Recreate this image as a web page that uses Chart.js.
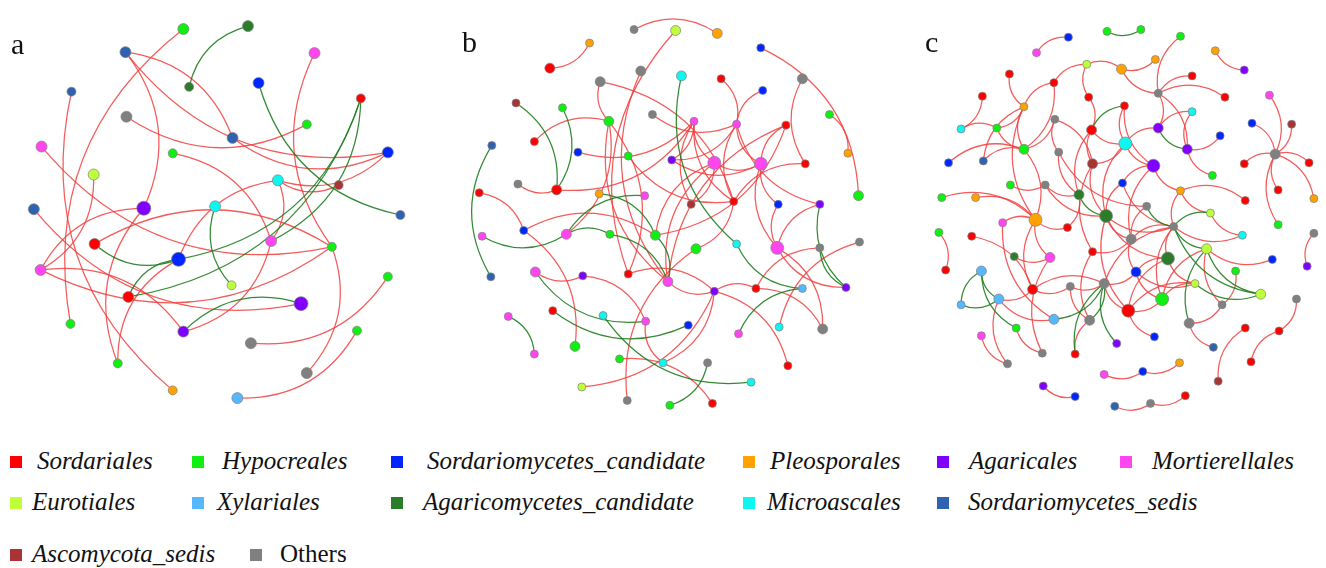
<!DOCTYPE html>
<html>
<head>
<meta charset="utf-8">
<title>Co-occurrence networks of fungal orders</title>
<script src="https://cdn.jsdelivr.net/npm/chart.js@4.4.1/dist/chart.umd.min.js"></script>
<style>
  html, body { margin: 0; padding: 0; background: #ffffff; }
  #page { position: relative; width: 1326px; height: 568px; overflow: hidden; background: #fff; }
  .panel { position: absolute; top: 0; height: 430px; }
  .tag { position: absolute; font-family: "Liberation Serif", "Times New Roman", serif; font-size: 30px; color: #111; line-height: 30px; }
  .sq { position: absolute; width: 12px; height: 12px; }
  .lab { position: absolute; font-family: "Liberation Serif", "Times New Roman", serif; font-style: italic; font-size: 25px; line-height: 26px; color: #111; white-space: nowrap; }
  .lab.roman { font-style: normal; }
</style>
</head>
<body>
<div id="page">
  <canvas id="netA" class="panel" style="left:0px" width="440" height="430"></canvas>
  <canvas id="netB" class="panel" style="left:440px" width="450" height="430"></canvas>
  <canvas id="netC" class="panel" style="left:890px" width="436" height="430"></canvas>
  <div class="tag" style="left:11px;top:29px">a</div>
  <div class="tag" style="left:462px;top:27px">b</div>
  <div class="tag" style="left:925px;top:27px">c</div>
  <div id="legend"></div>
</div>
<script>
// Fungal orders shown in the legend, with their node colours.
const ORDER_NAMES = ['Sordariales', 'Hypocreales', 'Sordariomycetes_candidate', 'Pleosporales',
  'Agaricales', 'Mortierellales', 'Eurotiales', 'Xylariales', 'Agaricomycetes_candidate',
  'Microascales', 'Sordariomycetes_sedis', 'Ascomycota_sedis', 'Others'];
const ORDER_CODES = ['S', 'H', 'SC', 'P', 'A', 'M', 'E', 'X', 'AC', 'MI', 'SS', 'AS', 'O'];
const ORDER_COLORS = ['#ff0000', '#11ee11', '#0026ff', '#ffa200', '#8000ff', '#ff45f0', '#bdff3a',
  '#55b8ff', '#2b7d2b', '#0ff5f0', '#2f62b0', '#a83434', '#808080'];

// Network a: nodes as [x, y, order code, degree class]; edges are 1-based node ids.
const nodesA = [
  [182,22,'H',2],[249,19,'AC',2],[122,46,'SS',2],[318,47,'M',2],[66,87,'SS',1],
  [188,82,'AC',1],[260,78,'SC',2],[366,94,'S',1],[123,113,'O',2],[310,121,'H',1],
  [233,135,'SS',2],[394,150,'SC',2],[35,144,'M',2],[171,151,'H',1],[89,173,'E',2],
  [280,179,'MI',2],[343,184,'AS',1],[27,209,'SS',2],[141,208,'A',3],[215,206,'MI',2],
  [407,215,'SS',1],[90,245,'S',2],[273,242,'M',2],[336,248,'H',1],[177,261,'SC',3],
  [34,272,'M',2],[232,288,'E',1],[394,279,'H',1],[125,300,'S',2],[304,307,'A',3],
  [182,336,'A',2],[65,328,'H',1],[252,348,'O',2],[362,335,'H',1],[114,369,'H',1],
  [310,379,'O',2],[171,397,'P',1],[238,405,'X',2]
];
const posEdgesA = [
  [1,32],[26,15],[5,37],[11,3],[3,12],[19,3],[4,24],[36,24],[9,10],[11,12],[16,12],[16,17],
  [23,14],[23,16],[16,25],[31,23],[19,35],[24,22],[26,24],[18,30],[13,24],[19,26],[31,26],
  [25,35],[33,28],[38,34]
];
const negEdgesA = [[2,6],[7,21],[20,27],[30,31],[25,8],[29,8],[23,8],[22,25],[25,29]];

// Network b
const nodesB = [
  [633,23,'O',1],[676,24,'E',2],[719,27,'P',2],[587,37,'P',1],[546,63,'S',2],
  [764,42,'SC',1],[640,66,'O',2],[682,71,'MI',2],[598,77,'O',2],[723,74,'S',1],
  [766,86,'SC',1],[807,74,'O',2],[511,99,'AS',1],[559,104,'H',1],[652,111,'O',1],
  [607,118,'H',2],[695,118,'M',1],[739,121,'M',1],[790,122,'S',1],[835,111,'H',1],
  [486,143,'SS',1],[530,139,'S',1],[575,150,'SC',1],[627,154,'H',1],[672,158,'A',1],
  [716,161,'M',3],[764,162,'M',3],[810,162,'S',1],[854,151,'P',1],[513,183,'O',1],
  [553,189,'S',2],[473,192,'S',1],[597,193,'P',1],[644,195,'M',1],[692,204,'AS',1],
  [736,201,'S',1],[782,204,'SC',1],[825,204,'A',1],[865,195,'H',2],[476,237,'M',1],
  [519,231,'SC',1],[563,235,'M',2],[608,235,'H',1],[655,236,'H',2],[739,245,'MI',1],
  [781,249,'M',3],[825,249,'O',1],[866,243,'O',1],[697,250,'H',2],[485,279,'SS',1],
  [531,274,'M',2],[580,278,'A',1],[627,276,'S',1],[668,284,'M',2],[716,294,'A',1],
  [759,291,'S',1],[807,291,'X',1],[852,290,'A',1],[549,314,'S',1],[601,319,'MI',1],
  [645,325,'M',1],[689,329,'SC',1],[503,320,'M',1],[741,338,'M',1],[783,331,'MI',1],
  [828,333,'O',2],[530,359,'M',1],[572,351,'H',2],[618,364,'H',1],[663,368,'MI',1],
  [709,368,'O',1],[792,371,'S',1],[754,388,'MI',1],[579,393,'E',1],[626,407,'O',1],
  [670,412,'H',1],[714,410,'S',1]
];
const posEdgesB = [
  [5,4],[3,1],[2,53],[7,54],[9,16],[36,9],[18,10],[11,18],[12,28],[39,6],[29,20],[16,22],
  [23,17],[30,31],[31,17],[42,16],[53,16],[41,32],[38,46],[44,41],[68,41],[44,19],[51,52],
  [61,52],[55,53],[49,75],[74,55],[56,55],[72,55],[46,58],[66,46],[37,46],[47,56],[48,65],
  [66,56],[61,70],[77,69],[70,55],[54,55],[17,26],[17,36],[18,27],[18,38],[25,17],[25,27],
  [25,18],[26,27],[27,37],[26,54],[27,46],[16,54],[18,36],[17,35],[19,54],[24,36],[26,44],
  [19,27],[15,18],[49,36],[28,36],[35,26]
];
const negEdgesB = [
  [8,45],[31,13],[31,14],[21,50],[44,33],[34,42],[38,58],[40,42],[43,42],[54,43],[54,44],
  [51,61],[45,57],[57,64],[47,58],[59,62],[60,73],[76,71],[67,63]
];

// Network c
const nodesC = [
  [1107,25,'H',1],[1142,23,'H',1],[1067,31,'SC',1],[1034,47,'M',1],[1183,30,'H',1],
  [1219,45,'P',1],[1249,65,'A',1],[1086,59,'E',1],[1122,64,'P',2],[1157,54,'P',1],
  [1006,69,'S',1],[1052,78,'S',1],[1195,71,'S',1],[978,92,'S',1],[1088,93,'S',1],
  [1160,89,'O',1],[1229,93,'S',1],[1275,91,'M',1],[1021,103,'P',1],[1125,102,'S',1],
  [1053,116,'O',1],[1195,108,'MI',1],[956,126,'MI',1],[993,125,'H',1],[1091,127,'S',2],
  [1160,125,'A',2],[1257,120,'SC',1],[1298,121,'AS',1],[1224,133,'SC',1],[1126,141,'MI',3],
  [1190,147,'A',2],[1021,147,'H',2],[1057,150,'O',1],[1281,152,'O',2],[943,161,'SC',1],
  [979,159,'SS',1],[1092,162,'AS',2],[1155,164,'A',3],[1216,174,'H',1],[1249,162,'S',1],
  [1316,161,'S',1],[1007,184,'H',1],[1043,184,'O',1],[1123,182,'SC',1],[1078,194,'AC',2],
  [1183,190,'P',1],[1284,189,'S',1],[936,197,'H',1],[971,197,'P',1],[1250,200,'S',1],
  [1321,198,'P',1],[1148,206,'O',1],[1214,213,'E',1],[1106,216,'AC',3],[1033,220,'P',3],
  [999,223,'M',1],[1066,228,'S',1],[1176,227,'O',1],[1247,236,'MI',1],[933,233,'H',1],
  [967,237,'S',1],[1284,225,'H',1],[1321,234,'O',1],[1132,240,'O',2],[1210,250,'E',2],
  [1011,258,'AC',1],[1048,259,'M',2],[1092,253,'S',1],[1170,260,'AC',3],[1278,261,'SC',1],
  [1314,268,'A',1],[940,272,'S',1],[977,273,'X',2],[1137,274,'SC',2],[1240,273,'H',1],
  [1030,292,'S',2],[1069,289,'O',1],[1104,286,'O',2],[1198,286,'E',1],[956,308,'X',1],
  [995,302,'X',2],[1164,302,'H',3],[1266,297,'E',2],[1303,302,'O',1],[1129,314,'S',3],
  [1226,308,'O',1],[1052,323,'X',2],[1089,324,'O',2],[1192,327,'O',2],[1013,332,'H',1],
  [1250,332,'S',1],[1285,335,'S',1],[977,340,'M',1],[1117,348,'A',1],[1156,341,'SC',1],
  [1217,352,'SS',1],[1040,358,'O',1],[1074,359,'S',1],[1256,367,'S',1],[1004,369,'O',1],
  [1182,368,'P',1],[1104,380,'M',1],[1144,377,'SC',1],[1222,387,'AS',1],[1041,392,'A',1],
  [1074,403,'SC',1],[1188,402,'S',1],[1115,413,'SS',1],[1152,410,'O',1]
];
const posEdgesC = [
  [3,4],[6,7],[9,8],[9,10],[8,12],[8,15],[12,19],[11,19],[32,12],[9,16],[5,16],[13,16],
  [17,16],[26,16],[31,16],[24,23],[24,19],[23,14],[19,32],[19,36],[19,55],[25,15],[20,38],
  [37,21],[32,21],[25,30],[22,26],[26,30],[22,31],[31,29],[31,39],[34,27],[34,28],[34,18],
  [34,40],[41,34],[34,47],[34,62],[51,34],[50,46],[32,35],[32,36],[63,71],[55,48],[55,49],
  [72,60],[76,61],[55,56],[56,87],[42,43],[43,45],[43,54],[38,44],[44,58],[46,58],[46,53],
  [58,59],[58,69],[54,58],[58,64],[58,82],[58,78],[65,70],[65,82],[65,86],[81,87],[81,100],
  [81,76],[88,98],[78,85],[78,76],[78,74],[85,95],[89,96],[89,86],[86,75],[79,82],[79,85],
  [91,104],[92,99],[92,84],[93,100],[90,97],[102,103],[103,101],[105,106],[108,109],
  [109,107],[55,57],[55,67],[55,76],[55,32],[37,54],[37,68],[37,30],[38,46],[38,64],[54,64],
  [54,69],[54,85],[64,74],[66,67],[67,97],[68,64],[68,88],[69,74],[69,85],[74,82],[74,79],
  [76,77],[77,88],[77,78],[57,45],[30,54],[30,38],[33,52],[25,37],[25,45],[24,32],[53,59],
  [44,54],[52,64],[33,45],[20,30],[85,82],[69,79],[21,33]
];
const negEdgesC = [
  [1,2],[20,25],[26,31],[45,54],[52,58],[53,58],[58,65],[58,83],[65,89],[73,80],[73,81],
  [73,90],[80,81],[87,78],[88,78],[78,94],[79,83],[65,83],[78,98]
];

// Rendering settings for the three panels.
const BEND = 0.3;                 // curve control-point offset, as a share of edge length
const POS_COLOR = 'rgba(242,62,62,0.85)';
const NEG_COLOR = 'rgba(30,125,30,0.9)';

function edgePlugin(nodes, pos, neg) {
  return {
    id: 'edges',
    beforeDatasetsDraw(chart) {
      const { ctx, scales: { x, y } } = chart;
      const draw = (list, color) => {
        ctx.strokeStyle = color;
        for (const [a, b] of list) {
          const p = nodes[a - 1], q = nodes[b - 1];
          const x1 = x.getPixelForValue(p[0]), y1 = y.getPixelForValue(p[1]);
          const x2 = x.getPixelForValue(q[0]), y2 = y.getPixelForValue(q[1]);
          const dx = x2 - x1, dy = y2 - y1;
          const cx = (x1 + x2) / 2 - BEND * dy, cy = (y1 + y2) / 2 + BEND * dx;
          ctx.beginPath();
          ctx.moveTo(x1, y1);
          ctx.quadraticCurveTo(cx, cy, x2, y2);
          ctx.stroke();
        }
      };
      ctx.save();
      ctx.lineWidth = 1.25;
      draw(pos, POS_COLOR);
      draw(neg, NEG_COLOR);
      ctx.restore();
    }
  };
}

function drawNetwork(id, nodes, pos, neg, xMin, xMax, radii) {
  const colorOf = n => ORDER_COLORS[ORDER_CODES.indexOf(n[2])];
  new Chart(document.getElementById(id), {
    type: 'scatter',
    data: {
      datasets: [{
        data: nodes.map(n => ({ x: n[0], y: n[1] })),
        pointBackgroundColor: nodes.map(colorOf),
        pointBorderColor: 'rgba(130,130,130,0.9)',
        pointBorderWidth: 0.8,
        pointRadius: nodes.map(n => radii[n[3]]),
        pointHoverRadius: nodes.map(n => radii[n[3]]),
        clip: false
      }]
    },
    options: {
      responsive: false,
      animation: false,
      events: [],
      layout: { padding: 0 },
      scales: {
        x: { type: 'linear', min: xMin, max: xMax, display: false },
        y: { type: 'linear', min: 0, max: 430, reverse: true, display: false }
      },
      plugins: { legend: { display: false }, tooltip: { enabled: false } }
    },
    plugins: [edgePlugin(nodes, pos, neg)]
  });
}

drawNetwork('netA', nodesA, posEdgesA, negEdgesA, 0, 440, { 1: 4.5, 2: 5.5, 3: 7 });
drawNetwork('netB', nodesB, posEdgesB, negEdgesB, 440, 890, { 1: 4, 2: 5, 3: 6.5 });
drawNetwork('netC', nodesC, posEdgesC, negEdgesC, 890, 1326, { 1: 4, 2: 5, 3: 6.5 });

// Legend: [order index, square x, text x, row centre y]
const legendLayout = [
  [0, 10, 37, 462], [1, 192, 222, 462], [2, 391, 427, 462], [3, 743, 770, 462], [4, 937, 969, 462], [5, 1120, 1152, 462],
  [6, 10, 32, 503], [7, 192, 217, 503], [8, 391, 423, 503], [9, 743, 767, 503], [10, 937, 968, 503],
  [11, 10, 32, 555], [12, 250, 280, 555]
];
const legend = document.getElementById('legend');
for (const [k, sx, tx, cy] of legendLayout) {
  const sq = document.createElement('div');
  sq.className = 'sq';
  sq.style.left = sx + 'px';
  sq.style.top = (cy - 6) + 'px';
  sq.style.background = ORDER_COLORS[k];
  legend.appendChild(sq);
  const t = document.createElement('div');
  t.className = 'lab' + (ORDER_NAMES[k] === 'Others' ? ' roman' : '');
  t.style.left = tx + 'px';
  t.style.top = (cy - 14) + 'px';
  t.textContent = ORDER_NAMES[k];
  legend.appendChild(t);
}
</script>
</body>
</html>
